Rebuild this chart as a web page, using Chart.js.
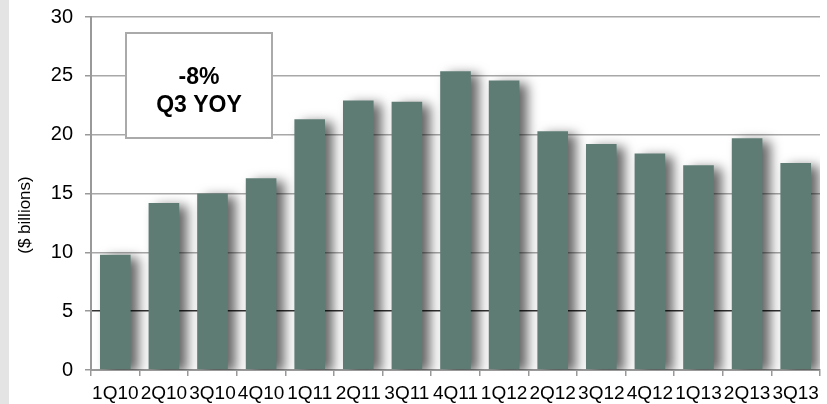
<!DOCTYPE html>
<html>
<head>
<meta charset="utf-8">
<script src="https://cdn.jsdelivr.net/npm/chart.js@4/dist/chart.umd.min.js"></script>
<style>
  html, body { margin:0; padding:0; background:#fff; }
  #wrap { width:827px; height:404px; position:relative; }
</style>
</head>
<body>
<div id="wrap"><canvas id="chart" width="827" height="404"></canvas></div>
<script>
const quarters = ['1Q10','2Q10','3Q10','4Q10','1Q11','2Q11','3Q11','4Q11','1Q12','2Q12','3Q12','4Q12','1Q13','2Q13','3Q13'];
const billions = [9.8, 14.2, 15.0, 16.3, 21.3, 22.9, 22.8, 25.4, 24.6, 20.3, 19.2, 18.4, 17.4, 19.7, 17.6];
const yTicks = [0, 5, 10, 15, 20, 25, 30];
const calloutLines = ['-8%', 'Q3 YOY'];
const yTitle = '($ billions)';

const FONT = '"Liberation Sans", Arial, sans-serif';

// white page with a thin grey strip at the left edge
const background = {
  id: 'background',
  beforeDraw(chart) {
    const ctx = chart.ctx;
    ctx.save();
    ctx.fillStyle = '#fff';
    ctx.fillRect(0, 0, chart.width, chart.height);
    ctx.fillStyle = '#e4e4e4';
    ctx.fillRect(0, 0, 9, chart.height);
    ctx.restore();
  }
};

// soft drop shadow to the right of each column
const barShadow = {
  id: 'barShadow',
  beforeDatasetsDraw(chart) {
    const ctx = chart.ctx;
    ctx.save();
    ctx.shadowColor = 'rgba(0,0,0,0.6)';
    ctx.shadowOffsetX = 8;
    ctx.shadowOffsetY = 3;
    ctx.shadowBlur = 12;
  },
  afterDatasetsDraw(chart) {
    chart.ctx.restore();
  }
};

// callout box and rotated axis title
const extras = {
  id: 'extras',
  afterDraw(chart) {
    const ctx = chart.ctx;
    ctx.save();
    ctx.fillStyle = '#fff';
    ctx.strokeStyle = '#aaaaaa';
    ctx.lineWidth = 2;
    ctx.fillRect(126, 33, 146, 105);
    ctx.strokeRect(126, 33, 146, 105);
    ctx.fillStyle = '#000';
    ctx.font = 'bold 23px ' + FONT;
    ctx.textAlign = 'center';
    ctx.textBaseline = 'middle';
    calloutLines.forEach((t, i) => ctx.fillText(t, 199, 78 + i * 28));

    ctx.translate(25, 215);
    ctx.rotate(-Math.PI / 2);
    ctx.font = '17px ' + FONT;
    ctx.fillText(yTitle, 0, 0);
    ctx.restore();
  }
};

new Chart(document.getElementById('chart'), {
  type: 'bar',
  data: {
    labels: quarters,
    datasets: [{
      data: billions,
      backgroundColor: '#5f7c74',
      borderWidth: 0,
      barPercentage: 1,
      categoryPercentage: 0.63
    }]
  },
  options: {
    responsive: false,
    animation: false,
    layout: { padding: { top: 17, right: 7, left: 0, bottom: 0 } },
    plugins: { legend: { display: false }, tooltip: { enabled: false } },
    scales: {
      x: {
        afterFit: s => { s.height = 34; },
        grid: { offset: true, drawOnChartArea: false, drawTicks: true, tickLength: 6, color: '#999', lineWidth: 1.5 },
        border: { color: '#999', width: 2 },
        ticks: { color: '#000', font: { family: FONT, size: 19 }, padding: 6, maxRotation: 0, autoSkip: false }
      },
      y: {
        min: 0, max: 30,
        afterFit: s => { s.width = 91; s.paddingTop = 0; s.paddingBottom = 0; },
        afterBuildTicks: s => { s.ticks = yTicks.map(v => ({ value: v })); },
        grid: {
          color: c => c.tick && c.tick.value === 5 ? '#333' : '#a8a8a8',
          tickColor: '#999',
          lineWidth: 1.5,
          tickLength: 6
        },
        border: { color: '#999', width: 2 },
        ticks: { color: '#000', font: { family: FONT, size: 20 }, padding: 12 }
      }
    }
  },
  plugins: [background, barShadow, extras]
});
</script>
</body>
</html>
